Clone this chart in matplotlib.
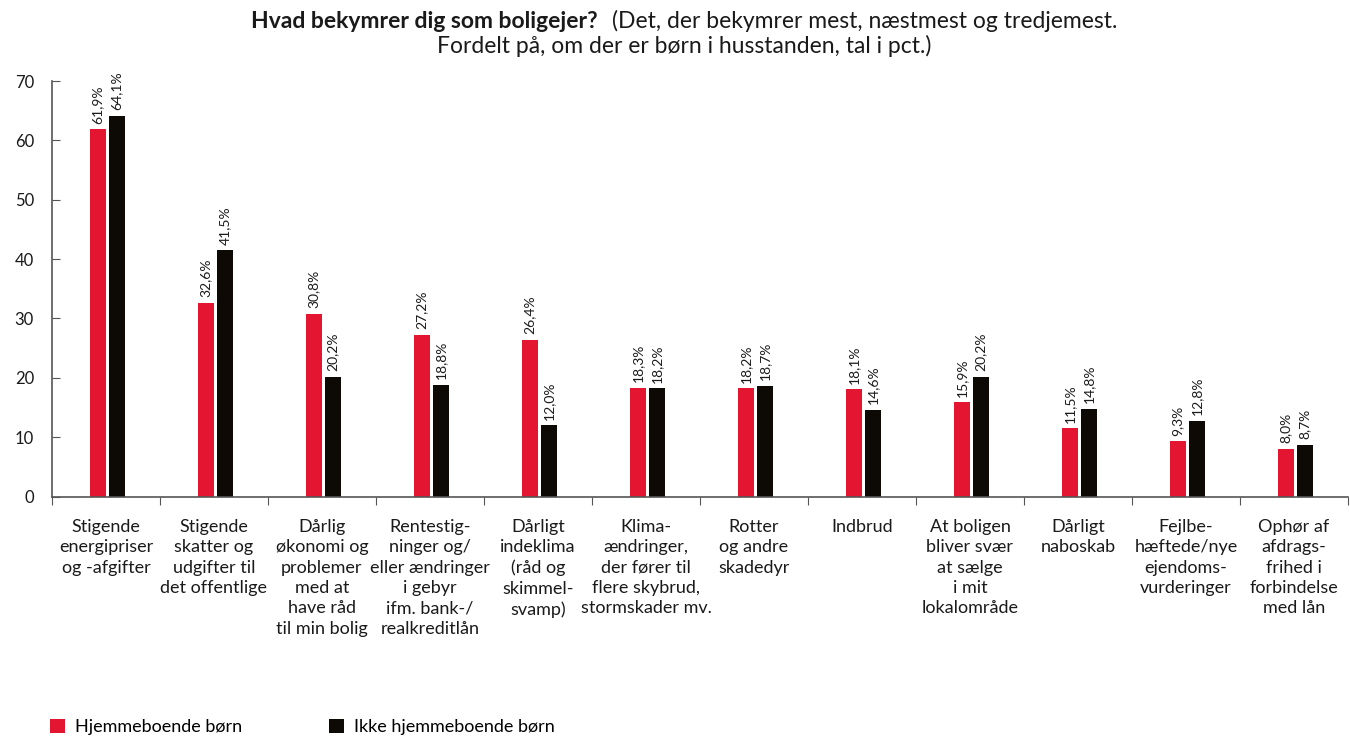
import matplotlib
matplotlib.use('Agg')
import matplotlib.pyplot as plt
import numpy as np

plt.rcParams['font.family'] = ['Lato', 'DejaVu Sans']

categories = [
    'Stigende\nenergipriser\nog -afgifter',
    'Stigende\nskatter og\nudgifter til\ndet offentlige',
    'Dårlig\nøkonomi og\nproblemer\nmed at\nhave råd\ntil min bolig',
    'Rentestig-\nninger og/\neller ændringer\ni gebyr\nifm. bank-/\nrealkreditlån',
    'Dårligt\nindeklima\n(råd og\nskimmel-\nsvamp)',
    'Klima-\nændringer,\nder fører til\nflere skybrud,\nstormskader mv.',
    'Rotter\nog andre\nskadedyr',
    'Indbrud',
    'At boligen\nbliver svær\nat sælge\ni mit\nlokalområde',
    'Dårligt\nnaboskab',
    'Fejlbe-\nhæftede/nye\nejendoms-\nvurderinger',
    'Ophør af\nafdrags-\nfrihed i\nforbindelse\nmed lån',
]
hjemme = [61.9, 32.6, 30.8, 27.2, 26.4, 18.3, 18.2, 18.1, 15.9, 11.5, 9.3, 8.0]
ikke_hjemme = [64.1, 41.5, 20.2, 18.8, 12.0, 18.2, 18.7, 14.6, 20.2, 14.8, 12.8, 8.7]
series_names = ['Hjemmeboende børn', 'Ikke hjemmeboende børn']
yticks = [0, 10, 20, 30, 40, 50, 60, 70]

red = '#e31530'
black = '#0d0a05'
grey = '#555555'
txt = '#1a1a1a'

fig = plt.figure(figsize=(13.5, 7.36), dpi=100)
ax = fig.add_axes([52 / 1350, 1 - 496.5 / 736, 1296 / 1350, 415.5 / 736])

x = np.arange(len(categories))
w = 0.15
b1 = ax.bar(x - 0.075, hjemme, w, color=red, label=series_names[0])
b2 = ax.bar(x + 0.1, ikke_hjemme, w, color=black, label=series_names[1])

for bars, vals in ((b1, hjemme), (b2, ikke_hjemme)):
    for rect, v in zip(bars, vals):
        ax.annotate(f'{v:.1f}%'.replace('.', ','),
                    (rect.get_x() + rect.get_width() / 2, v),
                    xytext=(0, 4), textcoords='offset points',
                    rotation=90, ha='center', va='bottom',
                    fontsize=10, color=txt)

ax.set_xlim(-0.5, len(categories) - 0.5)
ax.set_ylim(0, 70)
ax.set_yticks(yticks)
ax.tick_params(axis='y', direction='in', length=6, color=grey,
               labelsize=12, pad=13, labelcolor=txt)
# category boundaries as x ticks, labels as minor ticks
ax.set_xticks(np.arange(-0.5, len(categories) + 0.5, 1))
ax.set_xticklabels([])
ax.tick_params(axis='x', which='major', direction='out', length=6, color=grey)
ax.set_xticks(x, minor=True)
ax.set_xticklabels(categories, minor=True, fontsize=13, linespacing=1.34,
                   color=txt)
ax.tick_params(axis='x', which='minor', length=0, pad=16)

for s in ['top', 'right']:
    ax.spines[s].set_visible(False)
for s in ['left', 'bottom']:
    ax.spines[s].set_color(grey)
    ax.spines[s].set_linewidth(1.2)

# title: bold part + normal part on one line, second line centered
fig.canvas.draw()
r = fig.canvas.get_renderer()
t1 = fig.text(0, 0, 'Hvad bekymrer dig som boligejer?', fontsize=16.5,
              fontweight='bold', color=txt)
t2 = fig.text(0, 0, '(Det, der bekymrer mest, næstmest og tredjemest.',
              fontsize=16.5, color=txt)
w1 = t1.get_window_extent(r).width / 1350
w2 = t2.get_window_extent(r).width / 1350
gap = 14 / 1350
cx = 684 / 1350
start = cx - (w1 + gap + w2) / 2
t1.set_position((start, 1 - 28 / 736))
t2.set_position((start + w1 + gap, 1 - 28 / 736))
fig.text(cx, 1 - 53 / 736, 'Fordelt på, om der er børn i husstanden, tal i pct.)',
         fontsize=16.5, ha='center', color=txt)

fig.legend(handles=[b1, b2], loc='lower left', bbox_to_anchor=(50 / 1350, 1 / 736),
           ncol=2, frameon=False, fontsize=13, handlelength=0.85,
           handleheight=0.85, handletextpad=0.55, columnspacing=4.8,
           borderpad=0, borderaxespad=0)

fig.savefig('out.png', dpi=100)
